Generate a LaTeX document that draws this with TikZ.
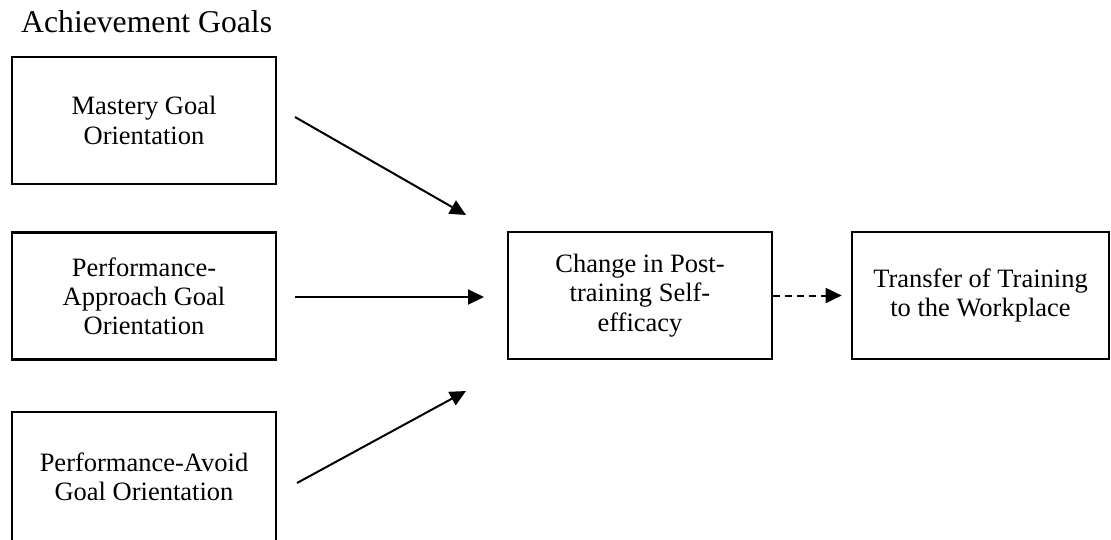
\documentclass[tikz,border=0pt]{standalone}
\usepackage{fontspec}
\setmainfont{Liberation Serif}
\usetikzlibrary{arrows.meta}
\begin{document}
\begin{tikzpicture}[x=1pt,y=-1pt,
  box/.style={draw=black, line width=2.7pt, minimum width=264pt, minimum height=127pt,
    inner sep=0pt, align=center, font=\fontsize{26.5pt}{29.2pt}\selectfont},
  link/.style={line width=2pt, -{Triangle[length=16pt,width=15pt]}},
  dlink/.style={link, dash pattern=on 7pt off 5pt}]
\useasboundingbox (0,0) rectangle (1111,539);

\node[anchor=base west, inner sep=0pt, font=\fontsize{31.7pt}{34pt}\selectfont]
  (title) at (21,32) {Achievement Goals};

\node[box] (mastery)  at (144,120.5) {Mastery Goal\\Orientation};
\node[box] (approach) at (144,296) {Performance-\\Approach Goal\\Orientation};
\node[box, minimum height=129pt] (avoid) at (144,476.5) {Performance-Avoid\\Goal Orientation};
\node[box] (change)   at (640,295.5) {Change in Post-\\training Self-\\efficacy};
\node[box, minimum width=257pt] (transfer) at (980.5,295.5) {Transfer of Training\\to the Workplace};

% free ends of the three incoming paths
\coordinate (m1) at (295,117);
\coordinate (m2) at (466,215);
\coordinate (a1) at (295,297);
\coordinate (a2) at (484,297);
\coordinate (v1) at (297,483);
\coordinate (v2) at (466,391);

\draw[link] (m1) -- (m2);
\draw[link] (a1) -- (a2);
\draw[link] (v1) -- (v2);
\draw[dlink, shorten >=9pt] (change.east) -- (transfer.west);
\end{tikzpicture}
\end{document}
